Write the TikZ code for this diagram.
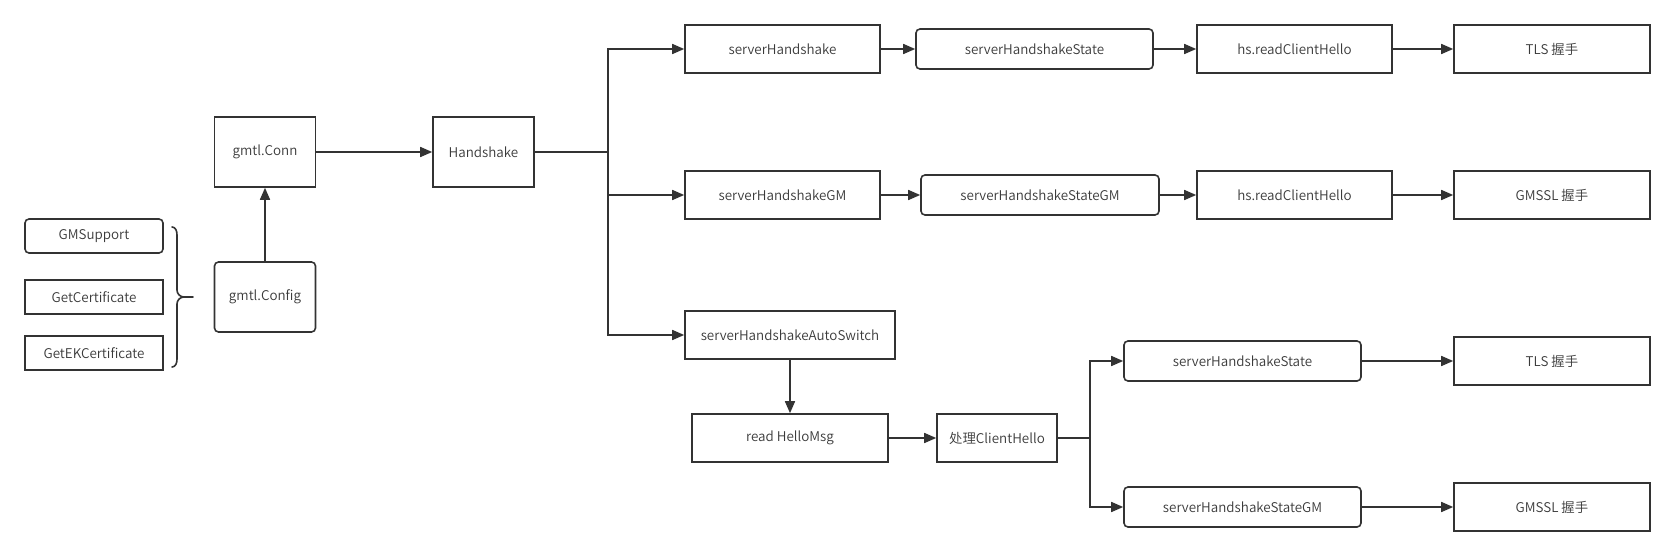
\documentclass[tikz,border=0pt]{standalone}
\usepackage{fontspec}
\setmainfont{Noto Sans CJK SC}[UprightFont=* DemiLight]
\usetikzlibrary{arrows.meta}
\definecolor{ink}{HTML}{333333}
\definecolor{txt}{HTML}{3A3A3A}
\tikzset{
  x=1pt, y=-1pt,
  box/.style={draw=ink, line width=1.6pt, text=txt, font=\fontsize{13.4}{16}\selectfont, inner sep=0pt, anchor=center},
  rbox/.style={box, rounded corners=4pt},
  arr/.style={draw=ink, line width=1.6pt, -{Triangle[length=12pt,width=10pt]}},
  ln/.style={draw=ink, line width=1.6pt},
}
\begin{document}
\begin{tikzpicture}
\useasboundingbox (0,0) rectangle (1674,556);
% left column
\node[rbox, minimum width=138pt, minimum height=34pt] (gmsupport) at (94,236) {GMSupport};
\node[box, minimum width=138pt, minimum height=34pt] (getcert) at (94,297) {GetCertificate};
\node[box, minimum width=138pt, minimum height=34pt] (getek) at (94,353) {GetEKCertificate};
\node[rbox, minimum width=101pt, minimum height=70pt] (config) at (265,297) {gmtl.Config};
\node[box, minimum width=101pt, minimum height=70pt] (conn) at (265,152) {gmtl.Conn};
\node[box, minimum width=101pt, minimum height=70pt] (hs) at (483.5,152) {Handshake};
% row 1
\node[box, minimum width=195pt, minimum height=48pt] (sh) at (782.5,49) {serverHandshake};
\node[rbox, minimum width=237pt, minimum height=40pt] (shs) at (1034.5,49) {serverHandshakeState};
\node[box, minimum width=195pt, minimum height=48pt] (rch1) at (1294.5,49) {hs.readClientHello};
\node[box, minimum width=196pt, minimum height=48pt] (tls1) at (1552,49) {TLS 握手};
% row 2
\node[box, minimum width=195pt, minimum height=48pt] (shgm) at (782.5,195) {serverHandshakeGM};
\node[rbox, minimum width=238pt, minimum height=40pt] (shsgm) at (1040,195) {serverHandshakeStateGM};
\node[box, minimum width=195pt, minimum height=48pt] (rch2) at (1294.5,195) {hs.readClientHello};
\node[box, minimum width=196pt, minimum height=48pt] (gmssl1) at (1552,195) {GMSSL 握手};
% auto switch
\node[box, minimum width=210pt, minimum height=48pt] (auto) at (790,335) {serverHandshakeAutoSwitch};
\node[box, minimum width=196pt, minimum height=48pt] (read) at (790,438) {read HelloMsg};
\node[box, minimum width=120pt, minimum height=48pt] (proc) at (997,438) {处理ClientHello};
\node[rbox, minimum width=237pt, minimum height=40pt] (shs2) at (1242.5,361) {serverHandshakeState};
\node[rbox, minimum width=237pt, minimum height=40pt] (shsgm2) at (1242.5,507) {serverHandshakeStateGM};
\node[box, minimum width=196pt, minimum height=48pt] (tls2) at (1552,361) {TLS 握手};
\node[box, minimum width=196pt, minimum height=48pt] (gmssl2) at (1552,507) {GMSSL 握手};
% brace
\draw[ln, line cap=round] (172,227) to[out=0,in=90] (177,235) -- (177,290) to[out=-90,in=180] (184,297) -- (193,297);
\draw[ln, line cap=round] (184,297) to[out=180,in=90] (177,304) -- (177,359) to[out=-90,in=0] (172,367);
% connectors
\draw[arr] (config.north) -- (conn.south);
\draw[arr] (conn) -- (hs);
\coordinate (tr) at (608,152);
\draw[ln] (hs.east) -- (tr);
\draw[arr] (tr) |- (sh.west);
\draw[arr] (tr) |- (shgm.west);
\draw[arr] (tr) |- (auto.west);
\draw[arr] (sh) -- (shs);
\draw[arr] (shs) -- (rch1);
\draw[arr] (rch1) -- (tls1);
\draw[arr] (shgm) -- (shsgm);
\draw[arr] (shsgm) -- (rch2);
\draw[arr] (rch2) -- (gmssl1);
\draw[arr] (auto) -- (read);
\draw[arr] (read) -- (proc);
\coordinate (sp) at (1090,438);
\draw[ln] (proc.east) -- (sp);
\draw[arr] (sp) |- (shs2.west);
\draw[arr] (sp) |- (shsgm2.west);
\draw[arr] (shs2) -- (tls2);
\draw[arr] (shsgm2) -- (gmssl2);
\end{tikzpicture}
\end{document}
